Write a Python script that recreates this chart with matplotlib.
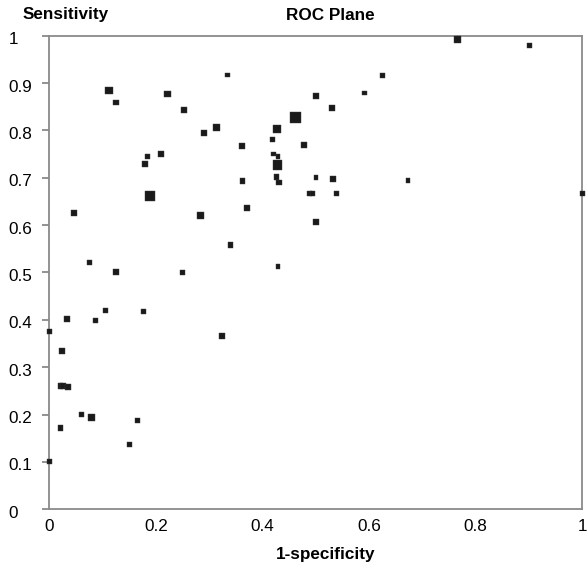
import matplotlib
matplotlib.use("Agg")
import matplotlib.pyplot as plt
import matplotlib.transforms as mtransforms
import numpy as np

plt.rcParams['font.family'] = ['Liberation Sans', 'DejaVu Sans']

# ROC plane: one point per study, marker size ~ study size
fpr = [0.112, 0.125, 0.221, 0.253, 0.334, 0.290, 0.313, 0.361, 0.428, 0.462,
       0.419, 0.478, 0.500, 0.184, 0.210, 0.179, 0.421, 0.429, 0.428, 0.426,
       0.431, 0.363, 0.500, 0.488, 0.494, 0.189, 0.371, 0.284, 0.046, 0.500,
       0.340, 0.076, 0.125, 0.250, 0.429, 0.766, 0.901, 0.625, 0.591, 0.530,
       0.532, 0.539, 0.673, 1.000, 0.033, 0.087, 0.105, 0.177, 0.000, 0.324,
       0.024, 0.021, 0.026, 0.035, 0.060, 0.079, 0.021, 0.166, 0.150, 0.000]
sens = [0.885, 0.859, 0.877, 0.844, 0.917, 0.795, 0.807, 0.767, 0.802, 0.827,
        0.781, 0.769, 0.873, 0.745, 0.750, 0.729, 0.750, 0.745, 0.727, 0.702,
        0.690, 0.693, 0.700, 0.667, 0.667, 0.662, 0.636, 0.621, 0.625, 0.607,
        0.558, 0.521, 0.500, 0.500, 0.513, 0.992, 0.979, 0.916, 0.879, 0.848,
        0.697, 0.667, 0.694, 0.667, 0.402, 0.399, 0.420, 0.418, 0.375, 0.366,
        0.334, 0.261, 0.261, 0.258, 0.200, 0.193, 0.172, 0.187, 0.137, 0.100]
n_patients = [45, 30, 40, 30, 20, 30, 40, 30, 55, 110,
              20, 30, 30, 20, 35, 30, 20, 20, 80, 25,
              25, 25, 18, 25, 25, 80, 30, 45, 30, 30,
              30, 20, 30, 20, 20, 35, 20, 20, 20, 30,
              30, 20, 20, 20, 25, 18, 20, 20, 20, 35,
              25, 30, 30, 25, 20, 40, 30, 25, 25, 20]

ticks_x = [0, 0.2, 0.4, 0.6, 0.8, 1]
ticks_y = [0, 0.1, 0.2, 0.3, 0.4, 0.5, 0.6, 0.7, 0.8, 0.9, 1]

W, H = 588, 570
fig = plt.figure(figsize=(W / 100, H / 100), dpi=100)
ax = fig.add_axes([49.3 / W, 1 - 509.2 / H, 533 / W, 473.5 / H])

# side in px ~ sqrt(n), scatter wants points^2
side_pt = 1.08 * np.sqrt(np.array(n_patients)) * 0.72
ax.scatter(fpr, sens, s=side_pt ** 2, marker='s', color='#1a1a1a',
           edgecolors='#3a3a3a', linewidths=0.3, clip_on=False, zorder=3)

ax.set_xlim(0, 1)
ax.set_ylim(0, 1)
ax.set_xticks(ticks_x)
ax.set_xticklabels(['0', '0.2', '0.4', '0.6', '0.8', '1'])
ax.set_yticks(ticks_y)
ax.set_yticklabels(['0', '0.1', '0.2', '0.3', '0.4', '0.5', '0.6', '0.7', '0.8', '0.9', '1'])

for sp in ax.spines.values():
    sp.set_color('#8a8a8a')
    sp.set_linewidth(1.3)

ax.tick_params(axis='x', length=0, pad=7, labelsize=12.3)
ax.tick_params(axis='y', length=4.7, width=1.3, color='#8a8a8a', pad=24.5, labelsize=12.3)
shift = mtransforms.ScaledTranslation(0, -2.5 / 100, fig.dpi_scale_trans)
for lab in ax.get_yticklabels():
    lab.set_horizontalalignment('left')
    lab.set_transform(lab.get_transform() + shift)

fig.text(22.7 / W, 1 - 15 / H, 'Sensitivity', ha='left', va='center',
         fontsize=12.3, fontweight='bold')
fig.text(330 / W, 1 - 15 / H, 'ROC Plane', ha='center', va='center',
         fontsize=12.3, fontweight='bold')
fig.text(326 / W, 1 - 555 / H, '1-specificity', ha='center', va='center',
         fontsize=12.3, fontweight='bold')

fig.savefig('out.png', dpi=100)
